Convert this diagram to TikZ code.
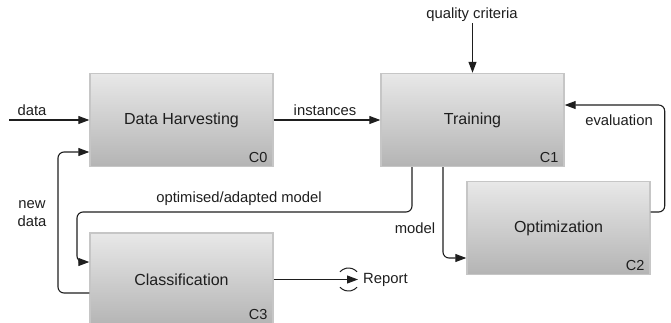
\documentclass[tikz,border=0pt]{standalone}
\usepackage{fontspec}
\setmainfont{Liberation Sans}
\usetikzlibrary{arrows.meta,calc}
\definecolor{boxtop}{HTML}{E8E8E8}
\definecolor{boxbot}{HTML}{B4B4B4}
\definecolor{boxline}{HTML}{C6C6C6}
\definecolor{ink}{HTML}{1E1E1E}
\begin{document}
\begin{tikzpicture}[x=1pt,y=-1pt,
  proc/.style={draw=boxline, line width=1.4pt, top color=boxtop, bottom color=boxbot,
    minimum width=183pt, minimum height=93pt, inner sep=0pt,
    font=\fontsize{16}{19}\selectfont, text=ink},
  tag/.style={anchor=east, font=\fontsize{14.5}{17}\selectfont, text=ink, inner sep=0pt},
  lbl/.style={font=\fontsize{14.8}{18}\selectfont, text=ink, inner sep=1pt},
  flow/.style={draw=ink, line width=1.1pt, -{Triangle[length=11pt,width=8pt]}, rounded corners=6pt},
  offpage/.style={draw=ink, line width=1pt}]

\useasboundingbox (0,0) rectangle (671,322);

% process boxes
\begin{scope}
  \clip (0,0) rectangle (671,322);
  \node[proc] (c0) at (181.5,120)   {Data Harvesting};
  \node[proc] (c1) at (472.5,120)   {Training};
  \node[proc] (c2) at (558.5,228)   {Optimization};
  \node[proc] (c3) at (181.5,279.5) {Classification};
\end{scope}

% box identifiers
\node[tag] (t0) at ($(c0.south east)+(-6,-9.5)$) {C0};
\node[tag] (t1) at ($(c1.south east)+(-6,-9.5)$) {C1};
\node[tag] (t2) at ($(c2.south east)+(-6,-9.5)$) {C2};
\node[tag] (t3) at ($(c3.south east)+(-6,-12.5)$) {C3};

% flow labels
\node[lbl] (ldata)  at (32,110)  {data};
\node[lbl] (linst)  at (325,110) {instances};
\node[lbl] (qc)     at (472,15)  {quality criteria};
\node[lbl] (leval)  at (619,120) {evaluation};
\node[lbl] (lopt)   at (239,199) {optimised/adapted model};
\node[lbl] (lmodel) at (415,228) {model};
\node[lbl, align=center] (lnew) at (32,214) {new\\data};
\node[lbl, anchor=west] (rep) at (362,280) {Report};

% free ends
\coordinate (src) at (9,120);
\coordinate (repend) at (358,279.5);

% connectors
\draw[flow] (src) -- (c0.west);
\draw[flow] (c0.east) -- (c1.west);
\draw[flow] (qc.south -| c1.north) -- (c1.north);
\draw[flow] ([yshift=16pt]c2.east) -- ++(14,0) |- ([yshift=15pt]c1.east);
\draw[flow] ([xshift=-29.5pt]c1.south) |- ([yshift=-30pt]c2.west);
\draw[flow] ([xshift=-60.5pt]c1.south) |- (77,212) |- ([yshift=17.5pt]c3.west);
\draw[flow] ([yshift=-13.5pt]c3.west) -| (58,152) -- ([yshift=-32pt]c0.west);
\draw[flow] (c3.east) -- (repend);

% off-page marker round the report arrow
\draw[offpage] (348.5,279.5) ++(42:11.5pt) arc[start angle=42, end angle=138, radius=11.5pt];
\draw[offpage] (348.5,279.5) ++(222:11.5pt) arc[start angle=222, end angle=318, radius=11.5pt];
\end{tikzpicture}
\end{document}
